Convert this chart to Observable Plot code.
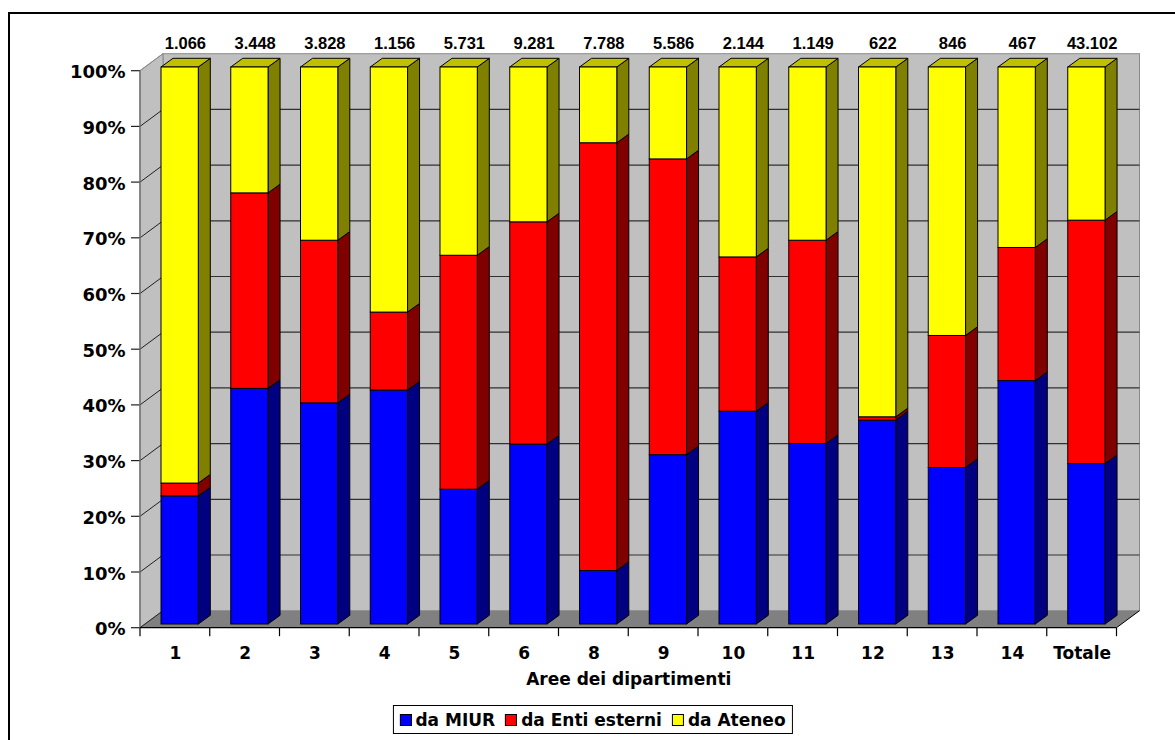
<!DOCTYPE html>
<html>
<head>
<meta charset="utf-8">
<script src="https://cdn.jsdelivr.net/npm/d3@7"></script>
<script src="https://cdn.jsdelivr.net/npm/@observablehq/plot@0.6"></script>
<style>
  html, body { margin: 0; padding: 0; background: #fff; }
  body { width: 1175px; height: 740px; overflow: hidden; position: relative; font-family: "DejaVu Sans", sans-serif; }
  #frame { position: absolute; left: 8px; top: 12px; width: 1200px; height: 800px; border: 2px solid #000; box-sizing: border-box; }
  #chart { position: absolute; left: 0; top: 0; }
  #legend {
    position: absolute; top: 705px; left: 592.5px; transform: translateX(-50%);
    height: 29px; box-sizing: border-box; border: 1px solid #000; background: #fff;
    display: flex; align-items: center; padding: 0 6px; gap: 10px;
    font: bold 17px "DejaVu Sans", sans-serif; white-space: nowrap;
  }
  #legend .item { display: flex; align-items: center; gap: 4px; }
  #legend .sw { width: 12px; height: 12px; border: 1px solid #000; box-sizing: border-box; }
</style>
</head>
<body>
<div id="frame"></div>
<div id="chart"></div>
<div id="legend"></div>
<script>
// Areas (departments) and the number of research grants for each one
const areas = ["1", "2", "3", "4", "5", "6", "8", "9", "10", "11", "12", "13", "14", "Totale"];
const totals = [1066, 3448, 3828, 1156, 5731, 9281, 7788, 5586, 2144, 1149, 622, 846, 467, 43102];

// Share (%) of funding by source
const daMIUR   = [23.0, 42.3, 39.7, 42.0, 24.2, 32.3,  9.6, 30.4, 38.2, 32.4, 36.6, 28.1, 43.7, 28.8];
const daEnti   = [ 2.3, 35.1, 29.2, 14.0, 42.0, 39.9, 76.8, 53.1, 27.7, 36.5,  0.6, 23.7, 23.9, 43.7];
const daAteneo = [74.7, 22.6, 31.1, 44.0, 33.8, 27.8, 13.6, 16.5, 34.1, 31.1, 62.8, 48.2, 32.4, 27.5];

const series = ["da MIUR", "da Enti esterni", "da Ateneo"];
const yTicks = [0, 10, 20, 30, 40, 50, 60, 70, 80, 90, 100];

// Face colours: front, side, top
const frontColors = ["#0000FF", "#FF0000", "#FFFF00"];
const sideColors  = ["#000080", "#800000", "#808000"];
const topColor    = "#C0C000";

const shares = [daMIUR, daEnti, daAteneo];
const rows = areas.flatMap((area, i) =>
  series.map((s, k) => ({area, series: s, value: shares[k][i]}))
);

const itFormat = d3.formatLocale({decimal: ",", thousands: ".", grouping: [3], currency: ["€", ""]}).format(",d");

// 3D geometry: wall depth, bar depth and the bar's front plane offset
const WALL = [23, -17];
const BAR = [12, -8.7];
const FRONT = [5, -3.7];
const INSET_L = 16, INSET_R = 16.45;

const para = (pts) => "M" + pts.map(p => p.join(",")).join("L") + "Z";

// Back wall, side wall, floor, gridlines and axis lines
function scene(index, scales, values, dims) {
  const {x, y} = scales;
  const g = d3.create("svg:g");
  const x0 = dims.marginLeft, x1 = dims.width - dims.marginRight;
  const yT = y(100), yB = y(0);
  const [wx, wy] = WALL;
  g.append("rect")
    .attr("x", x0 + wx).attr("y", yT + wy)
    .attr("width", x1 - x0).attr("height", yB - yT)
    .attr("fill", "#C0C0C0").attr("stroke", "#8a8a8a");
  g.append("path")
    .attr("d", para([[x0, yB], [x0, yT], [x0 + wx, yT + wy], [x0 + wx, yB + wy]]))
    .attr("fill", "#C0C0C0").attr("stroke", "#8a8a8a");
  g.append("path")
    .attr("d", para([[x0, yB], [x0 + wx, yB + wy], [x1 + wx, yB + wy], [x1, yB]]))
    .attr("fill", "#808080").attr("stroke", "none");
  // gridlines on the back wall and their traces on the side wall
  for (const t of yTicks) {
    const yy = y(t);
    if (t > 0 && t < 100) {
      g.append("line")
        .attr("x1", x0 + wx).attr("x2", x1 + wx)
        .attr("y1", yy + wy).attr("y2", yy + wy)
        .attr("stroke", "#303030").attr("stroke-width", 1.2);
    }
    g.append("line")
      .attr("x1", x0).attr("y1", yy).attr("x2", x0 + wx).attr("y2", yy + wy)
      .attr("stroke", t === 100 ? "#8a8a8a" : "#202020").attr("stroke-width", 1);
    // y tick
    g.append("line")
      .attr("x1", x0 - 9).attr("x2", x0).attr("y1", yy).attr("y2", yy)
      .attr("stroke", "#202020").attr("stroke-width", 1.2);
  }
  // front vertical axis line
  g.append("line")
    .attr("x1", x0).attr("x2", x0).attr("y1", yT).attr("y2", yB)
    .attr("stroke", "#707070").attr("stroke-width", 1.4);
  // bottom axis line, floor edge and category boundary ticks
  g.append("line")
    .attr("x1", x0).attr("x2", x1).attr("y1", yB).attr("y2", yB)
    .attr("stroke", "#000").attr("stroke-width", 1.2);
  g.append("line")
    .attr("x1", x1).attr("y1", yB).attr("x2", x1 + wx).attr("y2", yB + wy)
    .attr("stroke", "#000").attr("stroke-width", 1);
  areas.forEach((a) => {
    g.append("line")
      .attr("x1", x(a)).attr("x2", x(a)).attr("y1", yB).attr("y2", yB + 8.5)
      .attr("stroke", "#000").attr("stroke-width", 1.2);
  });
  g.append("line")
    .attr("x1", x1).attr("x2", x1).attr("y1", yB).attr("y2", yB + 8.5)
    .attr("stroke", "#000").attr("stroke-width", 1.2);
  return g.node();
}

// Side and top faces of the stacked bars
function barDepth(index, scales) {
  const {x, y} = scales;
  const g = d3.create("svg:g").attr("stroke", "#000").attr("stroke-width", 1).attr("stroke-linejoin", "round");
  const bw = x.bandwidth();
  const [bx, by] = BAR, [fx, fy] = FRONT;
  areas.forEach((a, i) => {
    const left = x(a) + INSET_L + fx;
    const right = x(a) + bw - INSET_R + fx;
    let acc = 0;
    shares.forEach((arr, k) => {
      const v = arr[i];
      const yb = y(acc) + fy, yt = y(acc + v) + fy;
      acc += v;
      g.append("path")
        .attr("d", para([[right, yb], [right, yt], [right + bx, yt + by], [right + bx, yb + by]]))
        .attr("fill", sideColors[k]);
    });
    const yt = y(acc) + fy;
    g.append("path")
      .attr("d", para([[left, yt], [left + bx, yt + by], [right + bx, yt + by], [right, yt]]))
      .attr("fill", topColor);
  });
  return g.node();
}

const bold = {fontFamily: "DejaVu Sans", fontWeight: "bold", fontSize: 17, fill: "#000"};

const chart = Plot.plot({
  width: 1175,
  height: 700,
  marginLeft: 140,
  marginRight: 58.5,
  marginTop: 70.7,
  marginBottom: 72.3,
  x: {type: "band", domain: areas, padding: 0, round: false, axis: null},
  y: {domain: [0, 100], axis: null},
  color: {domain: series, range: frontColors},
  style: {background: "transparent", overflow: "visible", color: "#000"},
  marks: [
    scene,
    barDepth,
    Plot.barY(rows, {
      x: "area", y: "value", fill: "series",
      stroke: "#000", strokeWidth: 1,
      insetLeft: INSET_L, insetRight: INSET_R,
      dx: FRONT[0], dy: FRONT[1]
    }),
    // totals above each bar
    Plot.text(areas, {
      x: d => d, y: () => 100, text: (d, i) => itFormat(totals[i]),
      dx: 10, dy: -27.7,
      fontFamily: "Liberation Sans", fontWeight: "bold", fontSize: 16.5, fill: "#000"
    }),
    // y tick labels
    Plot.text(yTicks, {
      y: d => d, text: d => `${d}%`, frameAnchor: "left",
      textAnchor: "end", dx: -15, dy: 1.3, ...bold, fontSize: 18
    }),
    // category labels
    Plot.text(areas, {x: d => d, y: () => 0, text: d => d, dy: 25.3, ...bold}),
    // axis title
    Plot.text(["Aree dei dipartimenti"], {frameAnchor: "bottom", text: d => d, dy: 57, ...bold})
  ]
});
document.getElementById("chart").append(chart);

// legend below the chart
const legend = d3.select("#legend");
series.forEach((s, k) => {
  const item = legend.append("div").attr("class", "item");
  item.append("div").attr("class", "sw").style("background", frontColors[k]);
  item.append("span").text(s);
});
</script>
</body>
</html>
